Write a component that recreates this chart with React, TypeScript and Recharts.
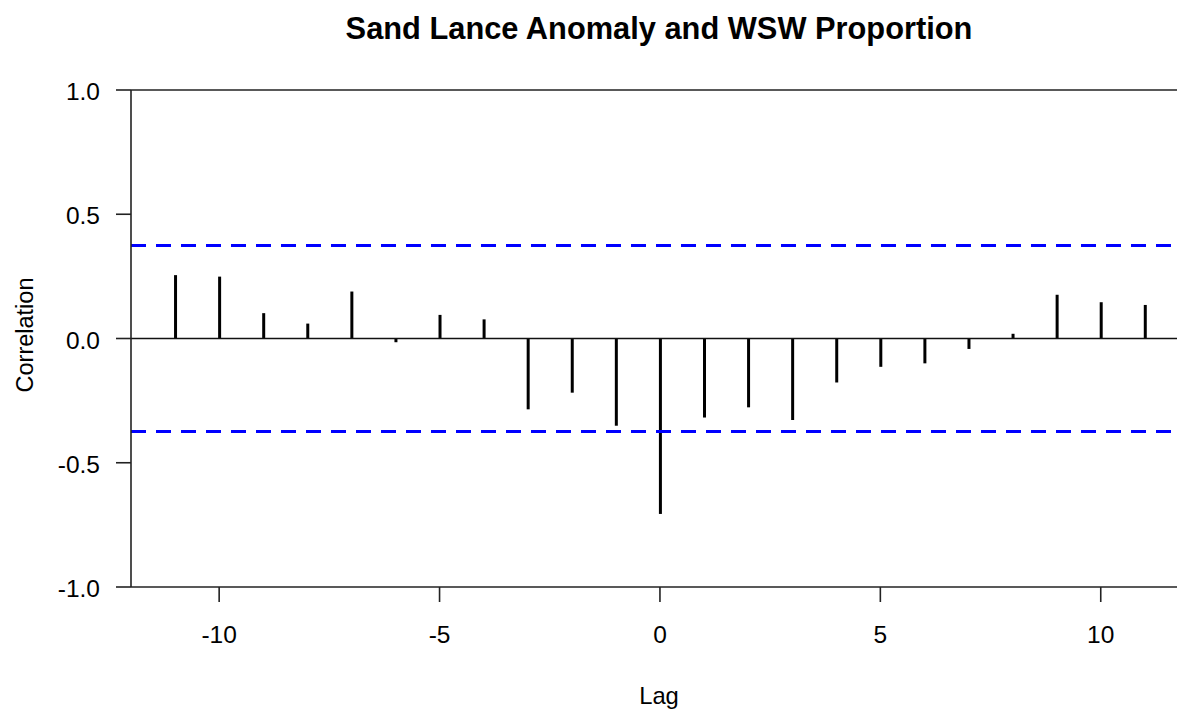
import React from 'react';
import { ComposedChart, Bar, XAxis, YAxis, ReferenceLine } from 'recharts';

// Cross-correlation of sand lance anomaly with WSW proportion, by lag
const lags = [-11, -10, -9, -8, -7, -6, -5, -4, -3, -2, -1, 0, 1, 2, 3, 4, 5, 6, 7, 8, 9, 10, 11];
const correlations = [
  0.255, 0.249, 0.102, 0.06, 0.189, -0.015, 0.095, 0.077, -0.285, -0.218, -0.351, -0.706,
  -0.318, -0.277, -0.328, -0.177, -0.114, -0.1, -0.042, 0.019, 0.176, 0.146, 0.135,
];
// Approximate 95% significance bound
const confidenceBound = 0.374;

const xTicks = [-10, -5, 0, 5, 10];
const yTicks = [-1, -0.5, 0, 0.5, 1];
const xDomain: [number, number] = [-12, 11.73];
const yDomain: [number, number] = [-1, 1];

const data = lags.map((lag, i) => ({ lag, r: correlations[i] }));

const FONT = '"Liberation Sans", Arial, Helvetica, sans-serif';
const AXIS = { stroke: '#222', strokeWidth: 1.6 };
const W = 1177;
const H = 711;

export default function App() {
  return (
    <div style={{ position: 'absolute', left: 0, top: 0, width: W, height: H, background: '#fff', overflow: 'hidden' }}>
      <ComposedChart
        width={W}
        height={H}
        data={data}
        margin={{ top: 90, right: 0, bottom: 64, left: 0 }}
      >
        <XAxis
          dataKey="lag"
          type="number"
          domain={xDomain}
          ticks={xTicks}
          allowDataOverflow
          height={60}
          axisLine={AXIS}
          tickLine={AXIS}
          tickSize={15}
          tickMargin={24}
          tick={{ fontSize: 24.5, fill: '#000', fontFamily: FONT }}
        />
        <YAxis
          type="number"
          domain={yDomain}
          ticks={yTicks}
          allowDataOverflow
          width={131}
          axisLine={AXIS}
          tickLine={AXIS}
          tickSize={15}
          tickMargin={16}
          tickFormatter={(v: number) => v.toFixed(1)}
          tick={{ fontSize: 24.5, fill: '#000', fontFamily: FONT, dy: 1.5 }}
        />
        <ReferenceLine y={1} stroke="#222" strokeWidth={1.6} ifOverflow="extendDomain" />
        <ReferenceLine y={0} stroke="#111" strokeWidth={1.6} />
        <ReferenceLine y={confidenceBound} stroke="#0000ff" strokeWidth={3} strokeDasharray="15 10" />
        <ReferenceLine y={-confidenceBound} stroke="#0000ff" strokeWidth={3} strokeDasharray="15 10" />
        <Bar dataKey="r" fill="#000" barSize={3} isAnimationActive={false} />
      </ComposedChart>
      <svg
        width={W}
        height={H}
        style={{ position: 'absolute', left: 0, top: 0, pointerEvents: 'none' }}
      >
        <text x={659} y={38.5} textAnchor="middle" fontFamily={FONT} fontWeight="bold" fontSize={30.8} fill="#000">
          Sand Lance Anomaly and WSW Proportion
        </text>
        <text x={659} y={703.5} textAnchor="middle" fontFamily={FONT} fontSize={23.8} fill="#000">
          Lag
        </text>
        <text
          x={32.5}
          y={335}
          textAnchor="middle"
          fontFamily={FONT}
          fontSize={23.5}
          fill="#000"
          transform="rotate(-90 32.5 335)"
        >
          Correlation
        </text>
      </svg>
    </div>
  );
}
